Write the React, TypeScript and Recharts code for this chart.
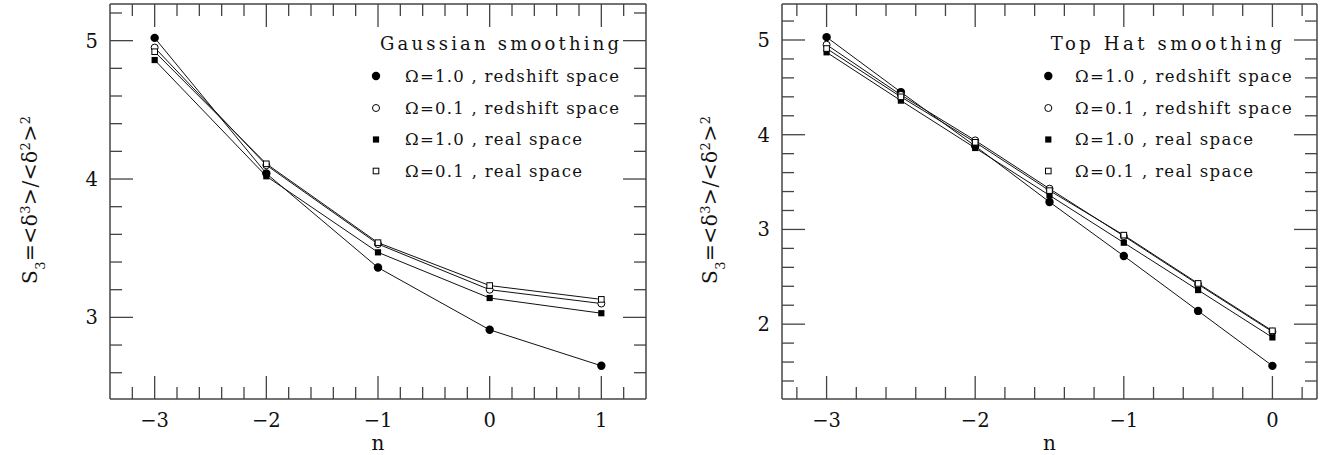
import React from "react";
import { LineChart, Line, XAxis, YAxis } from "recharts";

// S3 vs spectral index n, Gaussian smoothing
const gaussN = [-3, -2, -1, 0, 1];
const gaussOmega1Redshift = [5.02, 4.04, 3.36, 2.91, 2.65];
const gaussOmega01Redshift = [4.95, 4.1, 3.53, 3.2, 3.1];
const gaussOmega1Real = [4.86, 4.02, 3.47, 3.14, 3.03];
const gaussOmega01Real = [4.92, 4.11, 3.54, 3.23, 3.13];

// S3 vs n, top hat smoothing
const topHatN = [-3, -2.5, -2, -1.5, -1, -0.5, 0];
const topHatOmega1Redshift = [5.03, 4.45, 3.88, 3.29, 2.72, 2.14, 1.56];
const topHatOmega01Redshift = [4.95, 4.42, 3.94, 3.43, 2.93, 2.42, 1.92];
const topHatOmega1Real = [4.87, 4.36, 3.86, 3.36, 2.86, 2.36, 1.86];
const topHatOmega01Real = [4.91, 4.4, 3.92, 3.41, 2.94, 2.43, 1.93];

const legendLabels = [
  "Ω=1.0 , redshift space",
  "Ω=0.1 , redshift space",
  "Ω=1.0 , real space",
  "Ω=0.1 , real space",
];
const seriesKeys = ["o1z", "o01z", "o1r", "o01r"];

const FONT = "DejaVu Serif, Liberation Serif, serif";
const AXIS = "#444";
const INK = "#111";

function stepTicks(from: number, to: number, step: number) {
  const out: number[] = [];
  const n = Math.round((to - from) / step);
  for (let i = 0; i <= n; i++) out.push(Math.round((from + i * step) * 1000) / 1000);
  return out;
}

const isMajor = (v: number) => Math.abs(v - Math.round(v)) < 1e-6;
const fmt = (v: number) => {
  const r = Math.round(v);
  return r < 0 ? "\u2212" + Math.abs(r) : String(r);
};

type Box = { x0: number; x1: number; y0: number; y1: number };
const inX = (b: Box, x: number) => Number.isFinite(x) && x > b.x0 && x < b.x1;
const inY = (b: Box, y: number) => Number.isFinite(y) && y > b.y0 && y < b.y1;

const makeBottomTick = (b: Box) => (p: any) => {
  if (!inX(b, p.x)) return <g />;
  const major = isMajor(p.payload.value);
  return (
    <g>
      <line x1={p.x} x2={p.x} y1={b.y1} y2={b.y1 - (major ? 23 : 12)} stroke={AXIS} strokeWidth={1.3} />
      {major && (
        <text x={p.x} y={b.y1 + 28} textAnchor="middle" fontSize={19.5} style={{ fontFamily: FONT }} fill={INK}>
          {fmt(p.payload.value)}
        </text>
      )}
    </g>
  );
};

const makeTopTick = (b: Box) => (p: any) => {
  if (!inX(b, p.x)) return <g />;
  const major = isMajor(p.payload.value);
  return <line x1={p.x} x2={p.x} y1={b.y0} y2={b.y0 + (major ? 23 : 12)} stroke={AXIS} strokeWidth={1.3} />;
};

const makeLeftTick = (b: Box) => (p: any) => {
  if (!inY(b, p.y)) return <g />;
  const major = isMajor(p.payload.value);
  return (
    <g>
      <line x1={b.x0} x2={b.x0 + (major ? 23 : 12)} y1={p.y} y2={p.y} stroke={AXIS} strokeWidth={1.3} />
      {major && (
        <text x={b.x0 - 12} y={p.y + 7} textAnchor="end" fontSize={19.5} style={{ fontFamily: FONT }} fill={INK}>
          {fmt(p.payload.value)}
        </text>
      )}
    </g>
  );
};

const makeRightTick = (b: Box) => (p: any) => {
  if (!inY(b, p.y)) return <g />;
  const major = isMajor(p.payload.value);
  return <line x1={b.x1} x2={b.x1 - (major ? 23 : 12)} y1={p.y} y2={p.y} stroke={AXIS} strokeWidth={1.3} />;
};

// markers: filled circle, open circle, filled square, open square
function Marker({ kind, cx, cy }: { kind: number; cx: number; cy: number }) {
  if (kind === 0) return <circle cx={cx} cy={cy} r={4.2} fill="#000" />;
  if (kind === 1) return <circle cx={cx} cy={cy} r={3.5} fill="#fff" stroke="#000" strokeWidth={1} />;
  if (kind === 2) return <rect x={cx - 3.1} y={cy - 3.1} width={6.2} height={6.2} fill="#000" />;
  return <rect x={cx - 2.8} y={cy - 2.8} width={5.6} height={5.6} fill="#fff" stroke="#000" strokeWidth={1} />;
}

const dotFor = (kind: number) => (p: any) =>
  p.cx == null ? <g key={p.index} /> : <Marker key={p.index} kind={kind} cx={p.cx} cy={p.cy} />;

type PanelProps = {
  left: number;
  width: number;
  rows: any[];
  xDomain: [number, number];
  yDomain: [number, number];
  xTicks: number[];
  yTicks: number[];
  axisLeft: number;
  axisRight: number;
  title: string;
  titleX: number;
  titleW: number;
  markerX: number;
  textX: number;
  textW: number[];
  rowY: number[];
  yLabelX: number;
};

function Panel(props: PanelProps) {
  const H = 455;
  const top = 4;
  const bottomH = 56;
  const box: Box = { x0: props.axisLeft, x1: props.width - props.axisRight, y0: top, y1: H - bottomH };
  return (
    <div style={{ position: "absolute", left: props.left, top: 0, width: props.width, height: H }}>
      <LineChart width={props.width} height={H} data={props.rows} margin={{ top: 0, right: 0, bottom: 0, left: 0 }}>
        <XAxis
          dataKey="n"
          type="number"
          domain={props.xDomain}
          allowDataOverflow
          ticks={props.xTicks}
          interval={0}
          height={bottomH}
          tickSize={0}
          tickLine={false}
          tick={makeBottomTick(box)}
          axisLine={{ stroke: AXIS, strokeWidth: 1.5 }}
          label={{ value: "n", position: "insideBottom", offset: 5, fontSize: 20, style: { fontFamily: FONT }, fill: INK }}
        />
        <XAxis
          xAxisId="top"
          dataKey="n"
          orientation="top"
          type="number"
          domain={props.xDomain}
          allowDataOverflow
          ticks={props.xTicks}
          interval={0}
          height={top}
          tickSize={0}
          tickLine={false}
          tick={makeTopTick(box)}
          axisLine={{ stroke: AXIS, strokeWidth: 1.5 }}
        />
        <YAxis
          type="number"
          domain={props.yDomain}
          allowDataOverflow
          ticks={props.yTicks}
          interval={0}
          width={props.axisLeft}
          tickSize={0}
          tickLine={false}
          tick={makeLeftTick(box)}
          axisLine={{ stroke: AXIS, strokeWidth: 1.5 }}
        />
        <YAxis
          yAxisId="right"
          orientation="right"
          type="number"
          domain={props.yDomain}
          allowDataOverflow
          ticks={props.yTicks}
          interval={0}
          width={props.axisRight}
          tickSize={0}
          tickLine={false}
          tick={makeRightTick(box)}
          axisLine={{ stroke: AXIS, strokeWidth: 1.5 }}
        />
        {seriesKeys.map((k, i) => (
          <Line
            key={k}
            dataKey={k}
            stroke={INK}
            strokeWidth={1}
            dot={dotFor(i)}
            activeDot={false}
            isAnimationActive={false}
          />
        ))}
      </LineChart>
      <svg
        width={props.width}
        height={H}
        style={{ position: "absolute", left: 0, top: 0, pointerEvents: "none", fontFamily: FONT }}
      >
        <text
          x={props.titleX}
          y={43}
          textLength={props.titleW}
          lengthAdjust="spacing"
          dominantBaseline="central"
          fontSize={18}
          fill={INK}
        >
          {props.title}
        </text>
        {legendLabels.map((lab, i) => (
          <g key={lab}>
            <Marker kind={i} cx={props.markerX} cy={props.rowY[i]} />
            <text
              x={props.textX}
              y={props.rowY[i]}
              textLength={props.textW[i]}
              lengthAdjust="spacing"
              dominantBaseline="central"
              fontSize={16.5}
              fill={INK}
            >
              {lab}
            </text>
          </g>
        ))}
        <text
          transform={`rotate(-90 ${props.yLabelX} 200)`}
          x={props.yLabelX}
          y={200}
          textAnchor="middle"
          textLength={168}
          lengthAdjust="spacing"
          fontSize={20}
          fill={INK}
        >
          S<tspan baselineShift="sub" fontSize={13}>3</tspan>
          {"=<δ"}
          <tspan baselineShift="super" fontSize={13}>3</tspan>
          {">/<δ"}
          <tspan baselineShift="super" fontSize={13}>2</tspan>
          {">"}
          <tspan baselineShift="super" fontSize={13}>2</tspan>
        </text>
      </svg>
    </div>
  );
}

const gaussRows = gaussN.map((n, i) => ({
  n,
  o1z: gaussOmega1Redshift[i],
  o01z: gaussOmega01Redshift[i],
  o1r: gaussOmega1Real[i],
  o01r: gaussOmega01Real[i],
}));

const topHatRows = topHatN.map((n, i) => ({
  n,
  o1z: topHatOmega1Redshift[i],
  o01z: topHatOmega01Redshift[i],
  o1r: topHatOmega1Real[i],
  o01r: topHatOmega01Real[i],
}));

export default function App() {
  return (
    <div style={{ position: "absolute", left: 0, top: 0, width: 1324, height: 455, background: "#fff", fontFamily: FONT }}>
      <Panel
        left={0}
        width={660}
        rows={gaussRows}
        xDomain={[-3.4, 1.4]}
        yDomain={[2.41, 5.265]}
        xTicks={stepTicks(-3.2, 1.2, 0.2)}
        yTicks={stepTicks(2.6, 5.2, 0.2)}
        axisLeft={110}
        axisRight={14}
        title="Gaussian smoothing"
        titleX={380}
        titleW={239}
        markerX={376}
        textX={405}
        textW={[214, 214, 177, 177]}
        rowY={[76, 108, 139.5, 171]}
        yLabelX={37}
      />
      <Panel
        left={660}
        width={664}
        rows={topHatRows}
        xDomain={[-3.3, 0.3]}
        yDomain={[1.21, 5.38]}
        xTicks={stepTicks(-3.2, 0.2, 0.2)}
        yTicks={stepTicks(1.4, 5.2, 0.2)}
        axisLeft={122}
        axisRight={7}
        title="Top Hat smoothing"
        titleX={390.7}
        titleW={231}
        markerX={388.3}
        textX={415}
        textW={[216.7, 216.7, 178, 178]}
        rowY={[76, 108, 139.5, 171]}
        yLabelX={57}
      />
    </div>
  );
}
